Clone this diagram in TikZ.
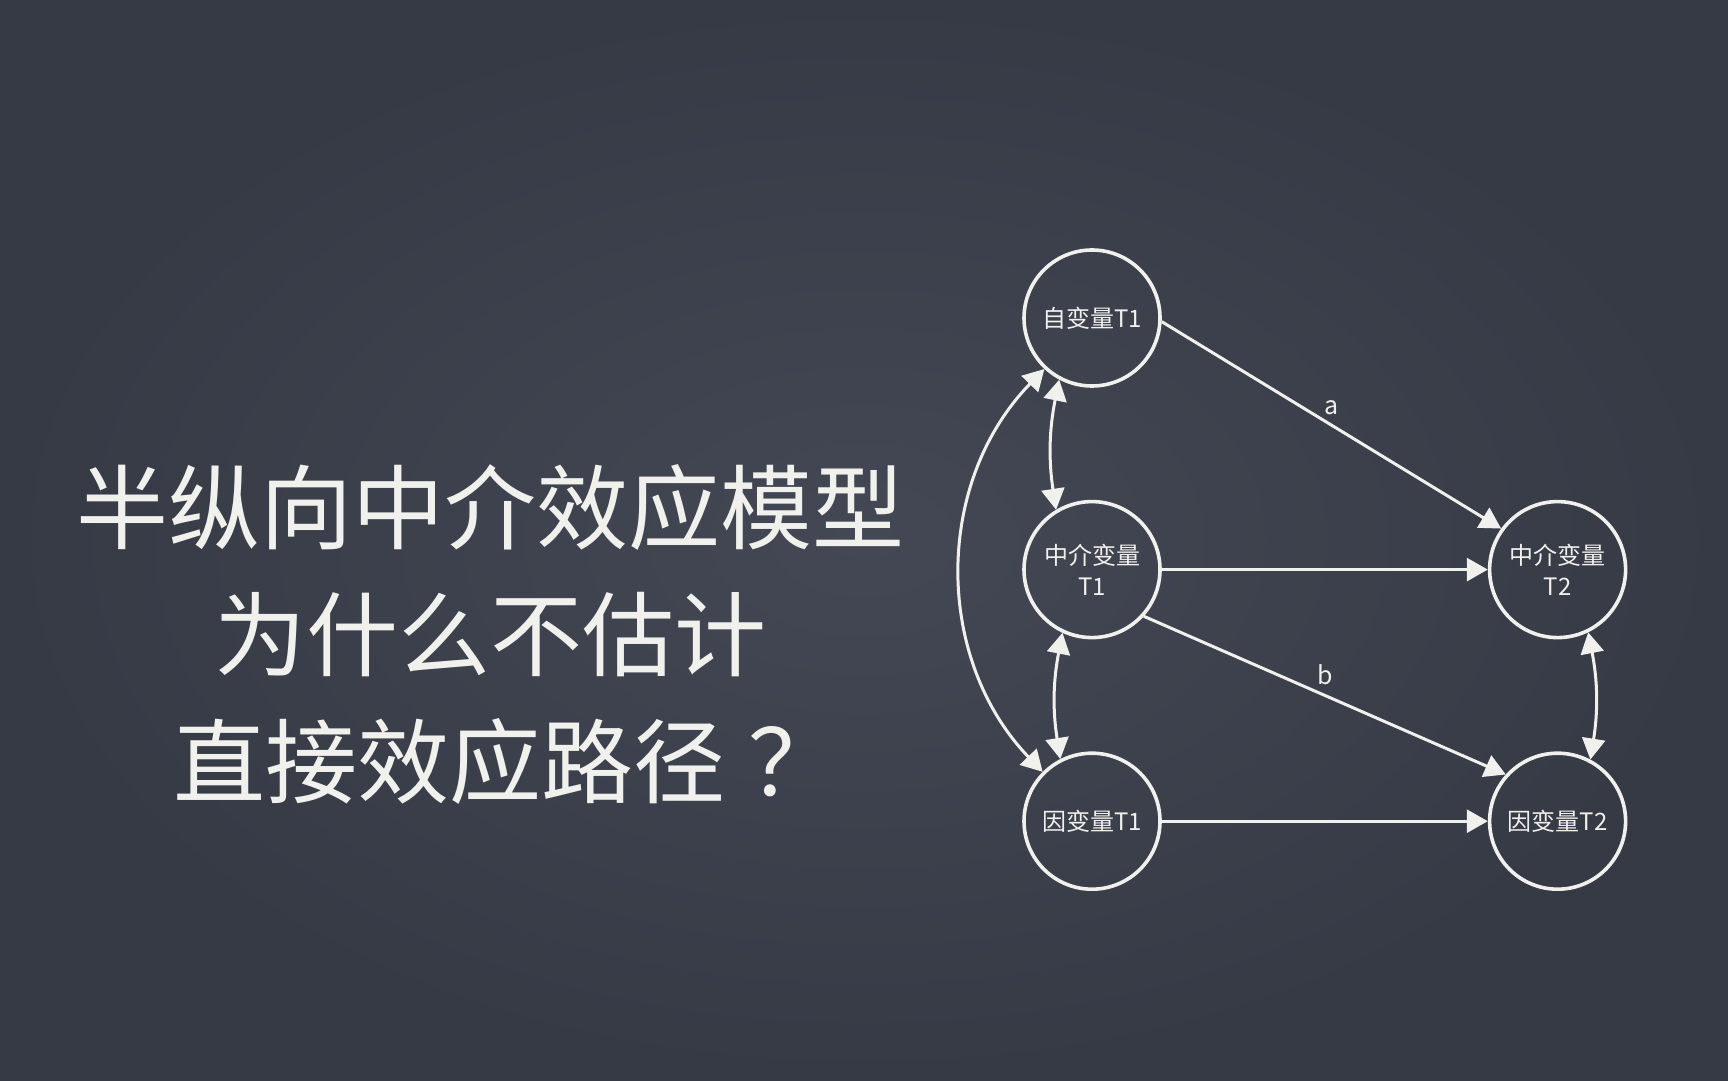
\documentclass[tikz,border=0pt]{standalone}
\usepackage{fontspec}
\setmainfont{Noto Sans CJK SC}
\usepackage{tikz}
\usetikzlibrary{arrows.meta,positioning}

\definecolor{board}{RGB}{62,66,78}
\definecolor{boardlight}{RGB}{68,72,84}
\definecolor{boarddark}{RGB}{54,58,69}
\definecolor{chalk}{RGB}{240,240,237}

\begin{document}
\begin{tikzpicture}[
    x=1pt, y=1pt,
    var/.style={circle, draw=chalk, line width=3.6pt, minimum size=136pt, inner sep=0pt, text=chalk, align=center, font=\fontsize{24}{31}\selectfont},
    path/.style={draw=chalk, line width=3pt, -{Triangle[length=21pt, width=23pt]}},
    cov/.style={draw=chalk, line width=3pt, {Triangle[length=21pt, width=23pt]}-{Triangle[length=21pt, width=23pt]}},
    coef/.style={text=chalk, font=\fontsize{25}{25}\selectfont, inner sep=9pt}
]

% Board
\shade[inner color=boardlight, outer color=boarddark] (0,0) rectangle (1728,1080);
\useasboundingbox (0,0) rectangle (1728,1080);

% Title
\node[text=chalk, align=center, font=\fontsize{92}{127}\selectfont] (title) at (490,446) {半纵向中介效应模型\\为什么不估计\\\hspace*{34pt}直接效应路径\hspace{24pt}？};

% Time 1 column
\node[var] (iv1) at (1092,762) {自变量T1};
\node[var, below=112pt of iv1] (med1) {中介变量\\T1};
\node[var, below=112pt of med1] (dv1) {因变量T1};

% Time 2 column
\node[var, right=326pt of med1] (med2) {中介变量\\T2};
\node[var, right=326pt of dv1] (dv2) {因变量T2};

% Paths
\draw[path] (iv1.-3) -- node[coef, above, pos=0.5] {a} (med2.144);
\draw[path] (med1) -- (med2);
\draw[path] (med1.-42) -- node[coef, above, pos=0.5] {b} (dv2.138);
\draw[path] (dv1) -- (dv2);

% Correlations
\draw[cov] (iv1.242) to[bend right=10] (med1.121);
\draw[cov] (med1.245) to[bend right=10] (dv1.117);
\draw[cov] (iv1.227) to[bend right=44] (dv1.135);
\draw[cov] (med2.296) to[bend left=10] (dv2.62);

\end{tikzpicture}
\end{document}
